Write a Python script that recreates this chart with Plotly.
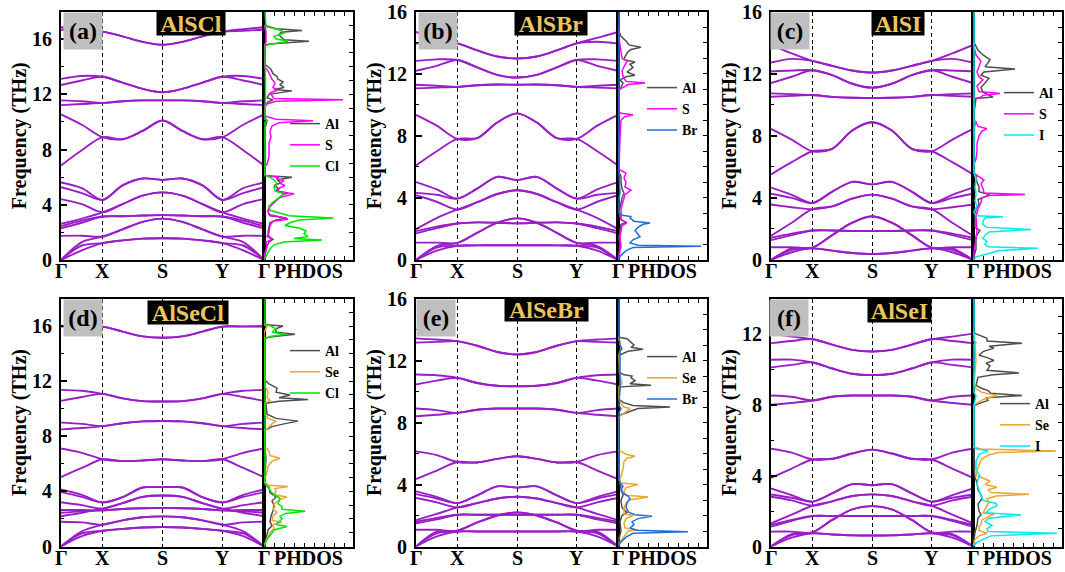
import plotly.graph_objects as go

# ---------------- data ----------------
K = [0, 0.1025, 0.205, 0.303, 0.402, 0.5, 0.598, 0.697, 0.795, 0.8975, 1.0]
KPOS = [0, 0.205, 0.5, 0.795, 1.0]
KLAB = ["Γ", "X", "S", "Y", "Γ"]

BANDS_A = [
    [0, 0.7, 1.22, 1.42, 1.55, 1.58, 1.55, 1.42, 1.22, 0.7, 0],
    [0, 1.05, 1.22, 1.42, 1.55, 1.58, 1.55, 1.42, 1.22, 1.05, 0],
    [0, 1.3, 1.7, 2.22, 2.76, 3.0, 2.76, 2.22, 1.7, 1.3, 0],
    [1.75, 1.76, 1.7, 2.22, 2.76, 3.0, 2.76, 2.22, 1.7, 1.76, 1.75],
    [2.3, 2.7, 3.15, 3.17, 3.22, 3.25, 3.22, 3.17, 3.15, 2.7, 2.3],
    [2.45, 2.85, 3.15, 3.17, 3.22, 3.25, 3.22, 3.17, 3.15, 2.85, 2.45],
    [2.62, 3.0, 3.45, 4.05, 4.66, 4.9, 4.66, 4.05, 3.45, 3.0, 2.62],
    [4.41, 4.05, 3.45, 4.05, 4.66, 4.9, 4.66, 4.05, 3.45, 4.05, 4.41],
    [5.27, 4.85, 4.35, 5.4, 5.9, 5.8, 5.9, 5.4, 4.35, 4.85, 5.27],
    [5.61, 5.2, 4.35, 5.4, 5.9, 5.8, 5.9, 5.4, 4.35, 5.2, 5.61],
    [6.85, 7.95, 8.9, 8.75, 9.35, 10.1, 9.35, 8.75, 8.9, 7.95, 6.85],
    [10.55, 9.8, 8.9, 8.75, 9.35, 10.1, 9.35, 8.75, 8.9, 9.8, 10.55],
    [11.22, 11.3, 11.38, 11.5, 11.56, 11.56, 11.56, 11.5, 11.38, 11.3, 11.22],
    [11.56, 11.5, 11.38, 11.5, 11.56, 11.56, 11.56, 11.5, 11.38, 11.5, 11.56],
    [12.68, 13.0, 13.27, 12.85, 12.4, 12.15, 12.4, 12.85, 13.27, 13.0, 12.68],
    [13.12, 13.33, 13.27, 12.85, 12.4, 12.15, 12.4, 12.85, 13.27, 13.33, 13.12],
    [16.68, 16.6, 16.54, 16.2, 15.8, 15.59, 15.8, 16.2, 16.54, 16.6, 16.68],
    [16.86, 16.72, 16.54, 16.2, 15.8, 15.59, 15.8, 16.2, 16.54, 16.72, 16.86],
]

BANDS_B = [
    [0, 0.6, 0.92, 0.94, 0.95, 0.95, 0.95, 0.94, 0.92, 0.6, 0],
    [0, 0.8, 0.92, 0.94, 0.95, 0.95, 0.95, 0.94, 0.92, 0.8, 0],
    [0, 0.9, 1.1, 1.75, 2.4, 2.68, 2.4, 1.75, 1.1, 0.9, 0],
    [1.12, 1.12, 1.1, 1.75, 2.4, 2.68, 2.4, 1.75, 1.1, 1.12, 1.12],
    [1.71, 2.05, 2.35, 2.42, 2.4, 2.36, 2.4, 2.42, 2.35, 2.05, 1.71],
    [1.86, 2.15, 2.35, 2.42, 2.4, 2.36, 2.4, 2.42, 2.35, 2.15, 1.86],
    [1.99, 2.7, 3.25, 3.72, 4.25, 4.49, 4.25, 3.72, 3.25, 2.7, 1.99],
    [4.17, 3.75, 3.25, 3.72, 4.25, 4.49, 4.25, 3.72, 3.25, 3.75, 4.17],
    [4.32, 4.2, 3.95, 4.6, 5.35, 5.15, 5.35, 4.6, 3.95, 4.2, 4.32],
    [5.02, 4.55, 3.95, 4.6, 5.35, 5.15, 5.35, 4.6, 3.95, 4.55, 5.02],
    [6.09, 7.0, 7.8, 7.85, 8.85, 9.44, 8.85, 7.85, 7.8, 7.0, 6.09],
    [9.34, 8.65, 7.8, 7.85, 8.85, 9.44, 8.85, 7.85, 7.8, 8.65, 9.34],
    [11.05, 11.1, 11.15, 11.25, 11.3, 11.28, 11.3, 11.25, 11.15, 11.1, 11.05],
    [11.28, 11.22, 11.15, 11.25, 11.3, 11.28, 11.3, 11.25, 11.15, 11.22, 11.28],
    [12.18, 12.5, 12.88, 12.4, 11.92, 11.75, 11.92, 12.4, 12.88, 12.5, 12.18],
    [12.82, 12.92, 12.88, 12.4, 11.92, 11.75, 11.92, 12.4, 12.88, 12.92, 12.82],
    [13.93, 14.05, 13.95, 13.5, 13.1, 12.97, 13.1, 13.5, 13.95, 14.05, 13.93],
    [14.68, 14.3, 13.95, 13.5, 13.1, 12.97, 13.1, 13.5, 13.95, 14.3, 14.68],
]

BANDS_C = [
    [0, 0.5, 0.75, 0.6, 0.45, 0.38, 0.45, 0.6, 0.75, 0.5, 0],
    [0, 0.65, 0.75, 0.6, 0.45, 0.38, 0.45, 0.6, 0.75, 0.65, 0],
    [0, 0.75, 0.8, 1.6, 2.4, 2.82, 2.4, 1.6, 0.8, 0.75, 0],
    [0.82, 0.82, 0.8, 1.6, 2.4, 2.82, 2.4, 1.6, 0.8, 0.82, 0.82],
    [1.28, 1.6, 1.9, 1.9, 1.87, 1.86, 1.87, 1.9, 1.9, 1.6, 1.28],
    [1.43, 1.7, 1.9, 1.9, 1.87, 1.86, 1.87, 1.9, 1.9, 1.7, 1.43],
    [1.56, 2.4, 3.27, 3.45, 3.95, 4.21, 3.95, 3.45, 3.27, 2.4, 1.56],
    [3.57, 3.4, 3.27, 3.45, 3.95, 4.21, 3.95, 3.45, 3.27, 3.4, 3.57],
    [4.27, 4.0, 3.67, 4.4, 5.03, 4.87, 5.03, 4.4, 3.67, 4.0, 4.27],
    [4.66, 4.2, 3.67, 4.4, 5.03, 4.87, 5.03, 4.4, 3.67, 4.2, 4.66],
    [5.51, 6.3, 7.0, 7.16, 8.34, 8.87, 8.34, 7.16, 7.0, 6.3, 5.51],
    [8.44, 7.75, 7.0, 7.16, 8.34, 8.87, 8.34, 7.16, 7.0, 7.75, 8.44],
    [10.51, 10.57, 10.62, 10.5, 10.45, 10.43, 10.45, 10.5, 10.62, 10.57, 10.51],
    [10.73, 10.68, 10.62, 10.5, 10.45, 10.43, 10.45, 10.5, 10.62, 10.68, 10.73],
    [11.39, 11.8, 12.22, 11.9, 11.35, 11.1, 11.35, 11.9, 12.22, 11.8, 11.39],
    [12.14, 12.2, 12.22, 11.9, 11.35, 11.1, 11.35, 11.9, 12.22, 12.2, 12.14],
    [12.71, 12.95, 12.82, 12.5, 12.2, 12.07, 12.2, 12.5, 12.82, 12.95, 12.71],
    [13.85, 13.3, 12.82, 12.5, 12.2, 12.07, 12.2, 12.5, 12.82, 13.3, 13.85],
]

BANDS_D = [
    [0, 0.75, 1.14, 1.28, 1.38, 1.41, 1.38, 1.28, 1.14, 0.75, 0],
    [0, 0.95, 1.14, 1.28, 1.38, 1.41, 1.38, 1.28, 1.14, 0.95, 0],
    [0, 1.1, 1.58, 1.9, 2.12, 2.19, 2.12, 1.9, 1.58, 1.1, 0],
    [1.8, 1.75, 1.58, 1.9, 2.12, 2.19, 2.12, 1.9, 1.58, 1.75, 1.8],
    [2.45, 2.55, 2.62, 2.72, 2.78, 2.8, 2.78, 2.72, 2.62, 2.55, 2.45],
    [2.65, 2.65, 2.62, 2.72, 2.78, 2.8, 2.78, 2.72, 2.62, 2.65, 2.65],
    [2.2, 2.45, 2.75, 3.15, 3.6, 3.7, 3.6, 3.15, 2.75, 2.45, 2.2],
    [3.21, 3.0, 2.75, 3.15, 3.6, 3.7, 3.6, 3.15, 2.75, 3.0, 3.21],
    [3.95, 3.6, 3.2, 3.58, 4.28, 4.31, 4.28, 3.58, 3.2, 3.6, 3.95],
    [4.14, 3.75, 3.2, 3.58, 4.28, 4.31, 4.28, 3.58, 3.2, 3.75, 4.14],
    [5.04, 5.7, 6.33, 6.2, 6.24, 6.33, 6.24, 6.2, 6.33, 5.7, 5.04],
    [7.11, 6.8, 6.33, 6.2, 6.24, 6.33, 6.24, 6.2, 6.33, 6.8, 7.11],
    [8.5, 8.6, 8.74, 8.95, 9.08, 9.11, 9.08, 8.95, 8.74, 8.6, 8.5],
    [8.99, 8.9, 8.74, 8.95, 9.08, 9.11, 9.08, 8.95, 8.74, 8.9, 8.99],
    [10.57, 10.85, 11.08, 10.75, 10.55, 10.52, 10.55, 10.75, 11.08, 10.85, 10.57],
    [11.37, 11.3, 11.08, 10.75, 10.55, 10.52, 10.55, 10.75, 11.08, 11.3, 11.37],
    [15.96, 15.96, 15.96, 15.6, 15.25, 15.15, 15.25, 15.6, 15.96, 15.96, 15.96],
    [16.0, 15.98, 15.96, 15.6, 15.25, 15.15, 15.25, 15.6, 15.96, 15.98, 16.0],
]

BANDS_E = [
    [0, 0.65, 0.97, 0.97, 0.97, 0.97, 0.97, 0.97, 0.97, 0.65, 0],
    [0, 0.85, 0.97, 0.97, 0.97, 0.97, 0.97, 0.97, 0.97, 0.85, 0],
    [0, 0.95, 1.02, 1.55, 2.0, 2.2, 2.0, 1.55, 1.02, 0.95, 0],
    [1.08, 1.08, 1.02, 1.55, 2.0, 2.2, 2.0, 1.55, 1.02, 1.08, 1.08],
    [1.5, 1.75, 2.05, 2.05, 2.05, 2.05, 2.05, 2.05, 2.05, 1.75, 1.5],
    [1.6, 1.85, 2.05, 2.05, 2.05, 2.05, 2.05, 2.05, 2.05, 1.85, 1.6],
    [1.7, 2.1, 2.52, 2.8, 3.1, 3.21, 3.1, 2.8, 2.52, 2.1, 1.7],
    [3.13, 2.85, 2.52, 2.8, 3.1, 3.21, 3.1, 2.8, 2.52, 2.85, 3.13],
    [3.38, 3.1, 2.8, 3.3, 3.88, 3.8, 3.88, 3.3, 2.8, 3.1, 3.38],
    [3.56, 3.2, 2.8, 3.3, 3.88, 3.8, 3.88, 3.3, 2.8, 3.2, 3.56],
    [4.35, 4.9, 5.45, 5.42, 5.65, 5.82, 5.65, 5.42, 5.45, 4.9, 4.35],
    [6.14, 5.9, 5.45, 5.42, 5.65, 5.82, 5.65, 5.42, 5.45, 5.9, 6.14],
    [8.4, 8.5, 8.62, 8.82, 8.9, 8.9, 8.9, 8.82, 8.62, 8.5, 8.4],
    [8.9, 8.8, 8.62, 8.82, 8.9, 8.9, 8.9, 8.82, 8.62, 8.8, 8.9],
    [10.45, 10.7, 10.88, 10.55, 10.37, 10.34, 10.37, 10.55, 10.88, 10.7, 10.45],
    [11.1, 11.05, 10.88, 10.55, 10.37, 10.34, 10.37, 10.55, 10.88, 11.05, 11.1],
    [13.15, 13.2, 13.25, 12.95, 12.55, 12.39, 12.55, 12.95, 13.25, 13.2, 13.15],
    [13.43, 13.35, 13.25, 12.95, 12.55, 12.39, 12.55, 12.95, 13.25, 13.35, 13.43],
]

BANDS_F = [
    [0, 0.5, 0.75, 0.68, 0.63, 0.62, 0.63, 0.68, 0.75, 0.5, 0],
    [0, 0.65, 0.75, 0.68, 0.63, 0.62, 0.63, 0.68, 0.75, 0.65, 0],
    [0, 0.7, 0.8, 1.5, 2.1, 2.28, 2.1, 1.5, 0.8, 0.7, 0],
    [0.84, 0.84, 0.8, 1.5, 2.1, 2.28, 2.1, 1.5, 0.8, 0.84, 0.84],
    [1.12, 1.45, 1.72, 1.72, 1.72, 1.72, 1.72, 1.72, 1.72, 1.45, 1.12],
    [1.22, 1.5, 1.72, 1.72, 1.72, 1.72, 1.72, 1.72, 1.72, 1.5, 1.22],
    [1.31, 1.8, 2.3, 2.55, 2.85, 2.94, 2.85, 2.55, 2.3, 1.8, 1.31],
    [2.81, 2.6, 2.3, 2.55, 2.85, 2.94, 2.85, 2.55, 2.3, 2.6, 2.81],
    [2.94, 2.75, 2.53, 3.0, 3.52, 3.46, 3.52, 3.0, 2.53, 2.75, 2.94],
    [3.28, 2.9, 2.53, 3.0, 3.52, 3.46, 3.52, 3.0, 2.53, 2.9, 3.28],
    [3.88, 4.4, 4.91, 4.95, 5.25, 5.47, 5.25, 4.95, 4.91, 4.4, 3.88],
    [5.52, 5.3, 4.91, 4.95, 5.25, 5.47, 5.25, 4.95, 4.91, 5.3, 5.52],
    [8.0, 8.1, 8.24, 8.45, 8.52, 8.52, 8.52, 8.45, 8.24, 8.1, 8.0],
    [8.52, 8.45, 8.24, 8.45, 8.52, 8.52, 8.52, 8.45, 8.24, 8.45, 8.52],
    [10.11, 10.25, 10.39, 10.05, 9.75, 9.68, 9.75, 10.05, 10.39, 10.25, 10.11],
    [10.54, 10.55, 10.39, 10.05, 9.75, 9.68, 9.75, 10.05, 10.39, 10.55, 10.54],
    [11.48, 11.6, 11.7, 11.4, 11.1, 11.01, 11.1, 11.4, 11.7, 11.6, 11.48],
    [12.02, 11.85, 11.7, 11.4, 11.1, 11.01, 11.1, 11.4, 11.7, 11.85, 12.02],
]

# PHDOS: (frequency THz, DOS arb. units)
AL_A = [(0, 0), (0.5, 0.15), (1.0, 0.3), (1.3, 0.5), (1.5, 0.9), (1.7, 0.5), (2.0, 0.4), (2.4, 0.5), (2.7, 0.6),
        (2.9, 1.2), (3.05, 2.3), (3.2, 0.6), (3.5, 0.4), (3.8, 0.5), (4.1, 0.9), (4.4, 1.3), (4.7, 1.8), (4.85, 2.4),
        (5.0, 1.2), (5.2, 1.4), (5.4, 1.0), (5.6, 1.7), (5.8, 1.3), (6.0, 2.8), (6.1, 0.2), (6.3, 0), (6.8, 0),
        (7.0, 0.1), (9.5, 0.1), (10.1, 0.3), (10.3, 0.1), (11.2, 0.1), (11.45, 0.4), (11.6, 0.9), (11.75, 0.3),
        (12.0, 0.5), (12.25, 2.8), (12.35, 1.0), (12.5, 2.0), (12.7, 1.6), (12.9, 1.9), (13.1, 1.4), (13.3, 1.3),
        (13.5, 0.9), (13.8, 0.7), (14.0, 0.4), (14.2, 0), (15.5, 0), (15.65, 0.5), (15.85, 4.5), (15.95, 2.0),
        (16.1, 1.8), (16.3, 1.5), (16.5, 1.7), (16.63, 3.8), (16.75, 1.2), (16.9, 0.3), (17.0, 0)]
S_A = [(0, 0), (0.5, 0.1), (1.0, 0.3), (1.3, 0.2), (1.5, 0.8), (1.7, 0.3), (2.0, 0.5), (2.5, 0.6), (2.8, 0.9),
       (2.95, 2.4), (3.1, 1.8), (3.3, 0.5), (3.6, 0.4), (3.9, 0.6), (4.2, 1.0), (4.5, 1.5), (4.8, 3.0), (4.95, 1.4),
       (5.2, 1.5), (5.4, 2.1), (5.55, 1.6), (5.75, 2.0), (5.9, 1.2), (6.0, 1.5), (6.1, 0.2), (6.3, 0), (6.8, 0),
       (6.9, 0.3), (7.5, 0.5), (8.0, 0.5), (8.5, 0.5), (8.9, 0.7), (9.3, 0.6), (9.7, 0.8), (9.95, 1.5),
       (10.08, 4.9), (10.2, 1.2), (10.4, 0.2), (10.6, 0.1), (11.1, 0.1), (11.3, 0.3), (11.5, 1.2), (11.6, 7.9),
       (11.7, 1.0), (11.9, 0.8), (12.1, 0.6), (12.3, 1.3), (12.5, 0.9), (12.8, 1.1), (13.1, 0.8), (13.4, 0.6),
       (13.8, 0.3), (14.0, 0), (15.5, 0), (15.8, 0.2), (16.6, 0.2), (17.0, 0)]
CL_A = [(0, 0), (0.4, 0.3), (0.8, 0.6), (1.1, 1.0), (1.3, 2.0), (1.45, 5.8), (1.55, 3.0), (1.7, 4.4), (1.9, 4.0),
        (2.1, 4.2), (2.3, 3.6), (2.5, 2.1), (2.7, 2.6), (2.9, 3.5), (3.05, 6.9), (3.2, 2.5), (3.4, 1.5), (3.6, 0.6),
        (3.9, 0.5), (4.2, 0.9), (4.5, 1.5), (4.8, 2.0), (5.0, 1.1), (5.3, 1.0), (5.5, 1.3), (5.8, 1.0), (6.0, 0.6),
        (6.1, 0.1), (6.3, 0.1), (10.0, 0.1), (10.1, 0.4), (10.2, 0.1), (12.2, 0.15), (15.5, 0.1), (15.6, 0.5),
        (15.85, 2.4), (16.0, 1.2), (16.2, 1.0), (16.45, 2.1), (16.6, 1.8), (16.8, 0.8), (16.9, 0.2), (18, 0.1)]

AL_B = [(0, 0), (0.9, 0.2), (1.5, 0.1), (2.3, 0.3), (2.4, 0.8), (2.6, 0.3), (3.0, 0.1), (3.3, 0.2), (4.0, 0.4),
        (4.3, 0.6), (4.6, 0.4), (5.0, 0.3), (5.4, 0.3), (5.6, 0.1), (6.0, 0), (9.3, 0), (9.4, 0.1), (10.9, 0.1),
        (11.1, 0.3), (11.4, 0.5), (11.6, 0.2), (11.8, 0.8), (11.9, 1.7), (12.1, 0.9), (12.4, 1.5), (12.6, 1.2),
        (12.75, 1.7), (12.9, 0.6), (13.1, 0.7), (13.4, 1.0), (13.55, 1.3), (13.7, 2.3), (13.85, 1.1), (14.1, 0.8),
        (14.4, 0.3), (14.7, 0.1), (15, 0)]
S_B = [(0, 0), (0.9, 0.3), (1.5, 0.2), (2.2, 0.4), (2.4, 0.9), (2.6, 0.3), (3.3, 0.3), (3.8, 0.5), (4.2, 0.7),
       (4.5, 1.3), (4.7, 0.7), (5.0, 0.8), (5.3, 0.6), (5.6, 0.8), (5.8, 0.2), (6.0, 0), (6.1, 0.1), (7.8, 0.2),
       (9.0, 0.3), (9.2, 0.6), (9.35, 1.5), (9.45, 0.3), (9.6, 0), (11.0, 0), (11.1, 0.5), (11.3, 1.0),
       (11.4, 2.7), (11.5, 0.8), (11.8, 0.5), (12.2, 0.4), (12.8, 0.9), (13.0, 0.4), (13.4, 0.3), (14.0, 0.2),
       (14.7, 0), (15, 0)]
BR_B = [(0, 0), (0.3, 0.3), (0.6, 0.8), (0.8, 1.5), (0.88, 8.3), (0.95, 2.0), (1.1, 1.2), (1.3, 1.5), (1.5, 2.2),
        (1.7, 1.9), (1.9, 1.7), (2.1, 2.0), (2.3, 2.5), (2.38, 3.2), (2.5, 1.6), (2.7, 1.2), (2.8, 1.3), (2.9, 0.3),
        (3.1, 0.1), (4.0, 0.1), (4.3, 0.2), (5.5, 0.1), (6.0, 0.1), (16, 0.1)]

AL_C = [(0, 0), (0.7, 0.3), (1.5, 0.3), (1.9, 0.7), (2.1, 0.2), (2.8, 0.2), (3.3, 0.3), (3.6, 0.6), (3.9, 0.5),
        (4.2, 1.7), (4.4, 0.6), (4.7, 0.6), (5.0, 0.4), (5.4, 0.3), (5.6, 0.1), (6, 0), (8.3, 0.1), (8.8, 0.2),
        (9.0, 0), (10.4, 0.3), (10.5, 2.0), (10.65, 1.5), (10.8, 1.0), (11.1, 0.8), (11.4, 1.2), (11.7, 1.6),
        (11.9, 0.8), (12.1, 1.1), (12.3, 4.2), (12.45, 1.2), (12.7, 1.5), (12.9, 1.7), (13.2, 1.0), (13.5, 0.5),
        (13.9, 0.2), (14.0, 0)]
S_C = [(0, 0), (0.8, 0.2), (1.9, 0.4), (2.8, 0.3), (3.3, 0.5), (3.7, 0.8), (4.0, 0.9), (4.15, 1.6), (4.22, 5.2),
       (4.32, 1.1), (4.6, 1.0), (4.9, 0.8), (5.15, 1.1), (5.4, 0.5), (5.6, 0.1), (6.0, 0), (6.5, 0.3), (7.0, 0.4),
       (7.5, 0.4), (8.0, 0.6), (8.3, 0.9), (8.45, 1.4), (8.6, 0.5), (8.9, 0.3), (9.0, 0), (10.4, 0), (10.45, 0.7),
       (10.6, 1.0), (10.72, 2.7), (10.85, 0.6), (11.2, 0.4), (11.6, 1.0), (11.8, 0.6), (12.1, 0.4), (12.3, 0.5),
       (12.8, 0.8), (13.2, 0.3), (13.9, 0.1), (14.0, 0)]
I_C = [(0, 0), (0.2, 0.3), (0.4, 1.5), (0.6, 2.5), (0.75, 6.5), (0.85, 1.5), (1.0, 1.2), (1.2, 1.4), (1.4, 1.0),
       (1.6, 1.2), (1.8, 1.6), (1.97, 5.8), (2.1, 1.4), (2.3, 1.0), (2.5, 1.0), (2.7, 1.2), (2.78, 3.0), (2.85, 0.3),
       (3.1, 0.1), (3.5, 0.4), (3.8, 0.2), (4.2, 0.3), (4.7, 0.2), (5.2, 0.3), (5.6, 0.1), (16, 0.1)]

AL_D = [(0, 0), (0.5, 0.2), (1.2, 0.4), (1.5, 0.8), (1.8, 0.6), (2.2, 0.7), (2.6, 0.9), (3.0, 1.0), (3.3, 0.8),
        (3.6, 1.2), (3.9, 0.6), (4.3, 0.5), (4.5, 0.1), (5.0, 0), (5.2, 0.1), (6.4, 0.2), (7.1, 0.1), (7.2, 0),
        (8.4, 0), (8.5, 0.3), (8.7, 0.8), (8.9, 2.0), (9.1, 3.4), (9.3, 1.2), (9.6, 0.3), (10.4, 0.2),
        (10.55, 1.5), (10.67, 4.4), (10.8, 1.5), (11.0, 2.6), (11.2, 1.2), (11.5, 1.3), (11.8, 0.5), (12.0, 0.2),
        (12.2, 0), (15.1, 0), (15.2, 0.6), (15.4, 3.1), (15.55, 1.2), (15.8, 1.2), (16.0, 1.9), (16.1, 0.3),
        (16.2, 0)]
SE_D = [(0, 0), (0.6, 0.3), (1.0, 0.6), (1.3, 1.0), (1.6, 0.9), (1.75, 1.8), (1.9, 0.8), (2.2, 0.9), (2.5, 1.3),
        (2.7, 0.9), (2.9, 1.1), (3.1, 1.0), (3.4, 1.6), (3.6, 2.3), (3.75, 1.0), (4.0, 1.2), (4.2, 1.1),
        (4.35, 2.4), (4.45, 0.5), (4.6, 0.1), (5.0, 0), (5.1, 0.2), (5.8, 0.4), (6.2, 0.8), (6.4, 1.6),
        (6.6, 0.6), (6.9, 0.5), (7.1, 0.3), (7.2, 0), (8.4, 0), (8.6, 0.4), (8.9, 0.8), (9.1, 1.2), (9.3, 0.4),
        (9.6, 0.1), (10.4, 0.1), (10.6, 0.6), (10.8, 0.3), (11.1, 0.4), (11.4, 0.3), (11.6, 0.1), (15.5, 0),
        (16.0, 0.3), (16.1, 0)]
CL_D = [(0, 0), (0.5, 0.3), (1.0, 0.8), (1.2, 1.0), (1.45, 2.3), (1.6, 1.2), (1.8, 1.5), (2.0, 1.8), (2.2, 1.6),
        (2.4, 2.2), (2.55, 4.1), (2.7, 1.8), (2.9, 1.8), (3.1, 1.4), (3.3, 1.5), (3.5, 1.6), (3.7, 1.2),
        (3.9, 0.8), (4.1, 0.6), (4.3, 0.4), (4.5, 0.2), (4.7, 0.1), (15.1, 0.1), (15.25, 0.6), (15.4, 2.2),
        (15.55, 0.8), (15.8, 1.2), (16.0, 0.7), (16.1, 0.1), (18, 0.1)]

AL_E = [(0, 0), (0.5, 0.1), (1.0, 0.3), (1.6, 0.2), (2.0, 0.4), (2.2, 0.9), (2.5, 0.4), (3.0, 0.3), (3.3, 0.5),
        (3.7, 0.3), (4.0, 0.2), (6.2, 0), (8.3, 0), (8.5, 0.3), (8.8, 1.5), (8.9, 2.0), (9.0, 5.2), (9.1, 1.5),
        (9.3, 0.5), (9.5, 0.1), (10.3, 0.2), (10.4, 3.3), (10.5, 1.2), (10.7, 1.7), (10.9, 1.3), (11.0, 1.4),
        (11.1, 0.5), (11.2, 0.2), (11.3, 0), (12.3, 0), (12.4, 0.4), (12.6, 1.0), (12.72, 2.5), (12.85, 1.3),
        (13.0, 1.6), (13.2, 1.2), (13.4, 0.9), (13.5, 0.1), (13.6, 0)]
SE_E = [(0, 0), (0.4, 0.3), (0.8, 0.8), (1.0, 1.0), (1.08, 2.0), (1.2, 0.7), (1.5, 0.6), (1.8, 0.8), (2.0, 1.5),
        (2.1, 0.6), (2.5, 0.6), (2.8, 0.8), (3.0, 1.1), (3.2, 3.0), (3.3, 0.8), (3.6, 0.6), (3.8, 0.8), (4.0, 2.0),
        (4.1, 0.3), (4.35, 0.1), (4.5, 0.3), (5.0, 0.5), (5.5, 0.6), (5.7, 0.9), (5.82, 1.7), (5.95, 0.8),
        (6.1, 0.4), (6.2, 0), (8.3, 0), (8.5, 0.4), (8.7, 0.8), (8.9, 1.2), (9.0, 0.6), (9.2, 0.3), (9.5, 0.1),
        (10.3, 0.1), (10.5, 0.4), (10.9, 0.3), (11.1, 0.2), (12.4, 0.1), (12.7, 0.3), (13.2, 0.2), (13.5, 0)]
BR_E = [(0, 0), (0.3, 0.3), (0.6, 0.8), (0.85, 1.5), (0.95, 7.0), (1.05, 1.8), (1.2, 1.2), (1.4, 1.6), (1.6, 1.4),
        (1.8, 2.0), (1.95, 3.4), (2.05, 1.7), (2.2, 1.1), (2.5, 0.8), (2.8, 0.9), (3.1, 1.2), (3.25, 1.0),
        (3.4, 0.6), (3.6, 0.3), (3.9, 0.5), (4.0, 0.3), (4.3, 0.1), (6, 0.1), (8.6, 0.1), (8.9, 0.3), (9.1, 0.1),
        (10.4, 0.2), (12.6, 0.2), (12.75, 0.4), (13.0, 0.2), (13.5, 0.1), (16, 0.1)]

AL_F = [(0, 0), (0.8, 0.2), (1.2, 0.4), (1.6, 0.5), (1.8, 0.8), (2.0, 0.6), (2.4, 0.5), (2.7, 0.9), (2.9, 0.8),
        (3.2, 0.5), (3.6, 0.4), (3.9, 0.2), (4.5, 0.1), (5.5, 0.1), (5.6, 0), (7.9, 0), (8.05, 0.5), (8.25, 1.5),
        (8.4, 1.3), (8.52, 4.9), (8.65, 1.8), (8.8, 1.5), (8.95, 0.8), (9.1, 0.3), (9.55, 0.5), (9.7, 2.0),
        (9.8, 4.6), (9.95, 1.4), (10.2, 1.7), (10.35, 1.3), (10.5, 2.1), (10.65, 1.5), (10.8, 0.6), (11.0, 1.0),
        (11.2, 2.1), (11.3, 1.6), (11.48, 4.9), (11.6, 1.4), (11.75, 1.4), (11.9, 0.6), (12.0, 0.3), (12.1, 0)]
SE_F = [(0, 0), (0.4, 0.2), (0.6, 0.6), (0.75, 1.4), (0.9, 0.6), (1.1, 0.6), (1.25, 0.8), (1.5, 0.9), (1.7, 1.6),
        (1.8, 2.1), (1.9, 1.0), (2.2, 1.3), (2.5, 1.6), (2.7, 1.4), (2.85, 2.3), (2.95, 5.6), (3.05, 1.8),
        (3.2, 1.5), (3.35, 2.4), (3.5, 1.2), (3.7, 1.7), (3.85, 1.0), (4.0, 0.3), (4.3, 0.4), (4.6, 0.6),
        (4.9, 0.8), (5.15, 1.5), (5.3, 2.5), (5.39, 8.3), (5.5, 0.8), (5.6, 0.1), (5.7, 0), (7.9, 0), (8.1, 0.4),
        (8.3, 1.0), (8.52, 2.4), (8.7, 0.9), (8.9, 0.3), (9.2, 0.1), (9.8, 0.2), (10.1, 0.3), (10.5, 0.3),
        (11.5, 0.2), (12.0, 0.1), (12.1, 0)]
I_F = [(0, 0), (0.2, 0.3), (0.4, 1.0), (0.6, 1.8), (0.75, 8.4), (0.85, 1.5), (1.0, 1.4), (1.2, 1.9), (1.4, 1.2),
       (1.6, 1.6), (1.78, 4.8), (1.9, 1.3), (2.1, 1.6), (2.3, 2.4), (2.43, 2.3), (2.6, 1.0), (2.9, 0.8),
       (3.2, 0.6), (3.5, 0.4), (3.8, 0.5), (4.0, 0.7), (4.3, 0.3), (4.8, 0.3), (5.2, 0.6), (5.4, 1.5), (5.5, 0.4),
       (5.6, 0.1), (8.0, 0.1), (8.5, 0.3), (8.7, 0.1), (11.4, 0.1), (11.5, 0.3), (11.6, 0.1), (14, 0.1)]

TITLES = ["AlSCl", "AlSBr", "AlSI", "AlSeCl", "AlSeBr", "AlSeI"]
LABELS = ["(a)", "(b)", "(c)", "(d)", "(e)", "(f)"]
YMAX = [18, 16, 16, 18, 16, 14]
ALL_BANDS = [BANDS_A, BANDS_B, BANDS_C, BANDS_D, BANDS_E, BANDS_F]
SPECIES = [
    [("Al", AL_A), ("S", S_A), ("Cl", CL_A)],
    [("Al", AL_B), ("S", S_B), ("Br", BR_B)],
    [("Al", AL_C), ("S", S_C), ("I", I_C)],
    [("Al", AL_D), ("Se", SE_D), ("Cl", CL_D)],
    [("Al", AL_E), ("Se", SE_E), ("Br", BR_E)],
    [("Al", AL_F), ("Se", SE_F), ("I", I_F)],
]

# ---------------- style / geometry ----------------
W, H = 1065, 572
COLORS = {"Al": "#4f4f4f", "S": "#ff00ff", "Cl": "#00e400", "Br": "#1e6fd6",
          "Se": "#e8a633", "I": "#00e8f0"}
BAND_COLOR = "#9a1ec8"
FONT = "Liberation Serif"
COLS = [(61, 264, 353), (416, 618, 707), (771, 973, 1062)]
ROWS = [(11.5, 260), (298.5, 546.5)]
LABEL_BOX = [(82.5, 31), (438, 31), (789.5, 31), (83, 318), (436, 317.5), (789, 317.5)]
TITLE_BOX = [(191.3, 23.3, 68), (550.5, 23, 72), (897.5, 23.5, 52), (188.3, 312, 80), (546.7, 309, 83),
             (899, 310, 63)]
LEGEND_POS = [(285, 108), (642, 72), (999, 77), (285, 335), (642, 341), (995, 388)]
KLAB_GAP = 11

def px(x):
    return x / W

def py(y):
    return 1 - y / H

fig = go.Figure()
layout = {}
annotations = []
bold = dict(family=FONT, color="black", weight="bold")

for i in range(6):
    r, c = divmod(i, 3)
    bl, br, dr = COLS[c]
    top, bot = ROWS[r]
    nb, nd = 2 * i + 1, 2 * i + 2
    xb, yb = f"x{nb}", f"y{nb}"
    xd, yd = f"x{nd}", f"y{nd}"
    leg = "legend" if i == 0 else f"legend{i + 1}"

    for band in ALL_BANDS[i]:
        fig.add_trace(go.Scatter(x=K, y=band, mode="lines", xaxis=xb, yaxis=yb,
                                 line=dict(color=BAND_COLOR, width=1.9, shape="spline", smoothing=0.9),
                                 showlegend=False, hoverinfo="skip"))
    for name, pts in SPECIES[i]:
        fig.add_trace(go.Scatter(x=[p[1] for p in pts], y=[p[0] for p in pts], mode="lines",
                                 xaxis=xd, yaxis=yd, name=name, legend=leg,
                                 line=dict(color=COLORS[name], width=1.5)))

    ax_common = dict(showline=True, linecolor="black", linewidth=2, mirror=True, zeroline=False,
                     automargin=False)
    kx = "xaxis" if nb == 1 else f"xaxis{nb}"
    ky = "yaxis" if nb == 1 else f"yaxis{nb}"
    layout[kx] = dict(domain=[px(bl), px(br)], anchor=yb, range=[0, 1], tickmode="array",
                      tickvals=KPOS, ticks="", showticklabels=False, showgrid=True, gridcolor="black",
                      gridwidth=1.4, griddash="4px,3px", **ax_common)
    layout[ky] = dict(domain=[py(bot), py(top)], anchor=xb, range=[0, YMAX[i]], dtick=4, ticks="inside",
                      ticklen=6, tickwidth=1.5, tickcolor="black", showgrid=False,
                      minor=dict(dtick=2, ticks="inside", ticklen=3, tickwidth=1.2, tickcolor="black"),
                      tickfont=dict(size=20, **bold), ticklabelstandoff=3,
                      title=dict(text="Frequency (THz)", standoff=0, font=dict(size=20, **bold)),
                      **ax_common)
    layout[f"xaxis{nd}"] = dict(domain=[px(br), px(dr)], anchor=yd, range=[0, 8.9], dtick=1,
                                ticks="inside", ticklen=4, tickwidth=1.2, tickcolor="black",
                                showticklabels=False, showgrid=False, **{**ax_common, "mirror": "allticks"})
    layout[f"yaxis{nd}"] = dict(domain=[py(bot), py(top)], anchor=xd, range=[0, YMAX[i]], dtick=1,
                                side="right", ticks="inside", ticklen=4, tickwidth=1.2, tickcolor="black",
                                showticklabels=False, showgrid=False, **ax_common)
    lx, ly = LEGEND_POS[i]
    layout[leg] = dict(x=px(lx), y=py(ly), xanchor="left", yanchor="top", bgcolor="rgba(0,0,0,0)",
                       borderwidth=0, tracegroupgap=0, itemwidth=30, font=dict(size=14, **bold))

    # high-symmetry point labels under the band axis
    for kv, kl in zip(KPOS, KLAB):
        annotations.append(dict(x=kv, xref=xb, y=py(bot + KLAB_GAP), yref="paper", text=kl,
                                showarrow=False, xanchor="center", yanchor="middle",
                                font=dict(size=20, **bold)))
    # panel label
    cx, cy = LABEL_BOX[i]
    annotations.append(dict(x=px(cx), y=py(cy), xref="paper", yref="paper", text=LABELS[i],
                            showarrow=False, xanchor="center", yanchor="middle", width=38, height=36,
                            bgcolor="#bfbfbf", borderpad=0, font=dict(size=24, **bold)))
    tx, ty, tw = TITLE_BOX[i]
    annotations.append(dict(x=px(tx), y=py(ty), xref="paper", yref="paper", text=TITLES[i],
                            showarrow=False, xanchor="center", yanchor="middle", width=tw, height=23,
                            bgcolor="black", borderpad=0,
                            font=dict(family=FONT, size=24, color="#ecc45e", weight="bold")))
    annotations.append(dict(x=px((br + dr) / 2), y=py(bot + KLAB_GAP), xref="paper", yref="paper",
                            text="PHDOS", showarrow=False, xanchor="center", yanchor="middle",
                            font=dict(size=20, **bold)))

fig.update_layout(width=W, height=H, margin=dict(l=0, r=0, t=0, b=0, autoexpand=False),
                  paper_bgcolor="white", plot_bgcolor="white", annotations=annotations,
                  showlegend=True, **layout)
fig.write_html("out.html")
